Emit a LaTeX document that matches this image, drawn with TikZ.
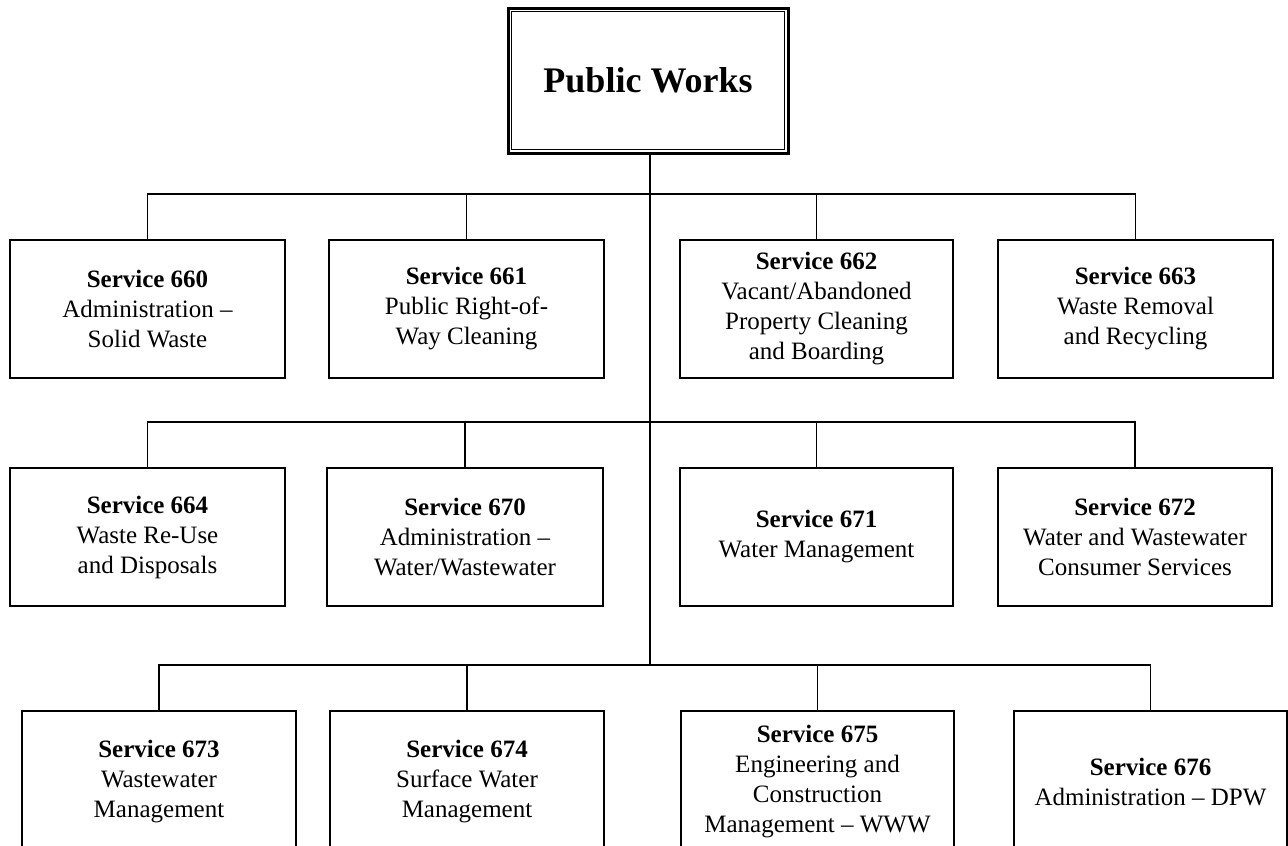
\documentclass[tikz,border=0pt]{standalone}
\usepackage{fontspec}
\setmainfont{Liberation Serif}
\begin{document}
\begin{tikzpicture}[x=1pt,y=-1pt,
  svc/.style={draw, line width=1.8pt, rectangle, inner sep=0pt, align=center,
    font=\fontsize{25}{30}\selectfont},
  rowA/.style={svc, minimum height=138pt},
  rowC/.style={svc, minimum height=142pt},
  wA/.style={minimum width=275pt},
  wB/.style={minimum width=273pt},
  link/.style={line width=1.8pt}]
\useasboundingbox (0,0) rectangle (1288,846);

% top box
\node[draw, line width=3pt, minimum width=280pt, minimum height=145pt, inner sep=0pt,
  font=\fontsize{36}{42}\selectfont\bfseries] (pw) at (648,80.5) {Public Works};
\draw[line width=1.8pt] ([shift={(5,5)}]pw.north west) rectangle ([shift={(-5,-5)}]pw.south east);

% row 1
\node[rowA, wA] (s660) at (147.5,309) {\textbf{Service 660}\\Administration --\\Solid Waste};
\node[rowA, wA] (s661) at (466.5,309) {\textbf{Service 661}\\Public Right-of-\\Way Cleaning};
\node[rowA, wB] (s662) at (816.5,309) {\textbf{Service 662}\\Vacant/Abandoned\\Property Cleaning\\and Boarding};
\node[rowA, wA] (s663) at (1135.5,309) {\textbf{Service 663}\\Waste Removal\\and Recycling};

% row 2
\node[rowA, wA] (s664) at (147.5,537) {\textbf{Service 664}\\Waste Re-Use\\and Disposals};
\node[rowA, minimum width=276pt] (s670) at (465,537) {\textbf{Service 670}\\Administration --\\Water/Wastewater};
\node[rowA, wB] (s671) at (816.5,537) {\textbf{Service 671}\\Water Management};
\node[rowA, minimum width=274pt] (s672) at (1135,537) {\textbf{Service 672}\\Water and Wastewater\\Consumer Services};

% row 3
\node[rowC, minimum width=274pt] (s673) at (159,782) {\textbf{Service 673}\\Wastewater\\Management};
\node[rowC, minimum width=274pt] (s674) at (467,782) {\textbf{Service 674}\\Surface Water\\Management};
\node[rowC, wB] (s675) at (817.5,782) {\textbf{Service 675}\\Engineering and\\Construction\\Management -- WWW};
\node[rowC, wB] (s676) at (1150.5,782) {\textbf{Service 676}\\Administration -- DPW};

% trunk
\coordinate (trunk) at (650,666);
\draw[link] (pw.south -| trunk) -- (trunk);

% buses and stems
\draw[link] (s660.north) -- ++(0,-45) -| (s663.north);
\draw[link] (s661.north) -- ++(0,-45);
\draw[link] (s662.north) -- ++(0,-45);

\draw[link] (s664.north) -- ++(0,-45) -| (s672.north);
\draw[link] (s670.north) -- ++(0,-45);
\draw[link] (s671.north) -- ++(0,-45);

\draw[link] (s673.north) -- ++(0,-45) -| (s676.north);
\draw[link] (s674.north) -- ++(0,-45);
\draw[link] (s675.north) -- ++(0,-45);
\end{tikzpicture}
\end{document}
